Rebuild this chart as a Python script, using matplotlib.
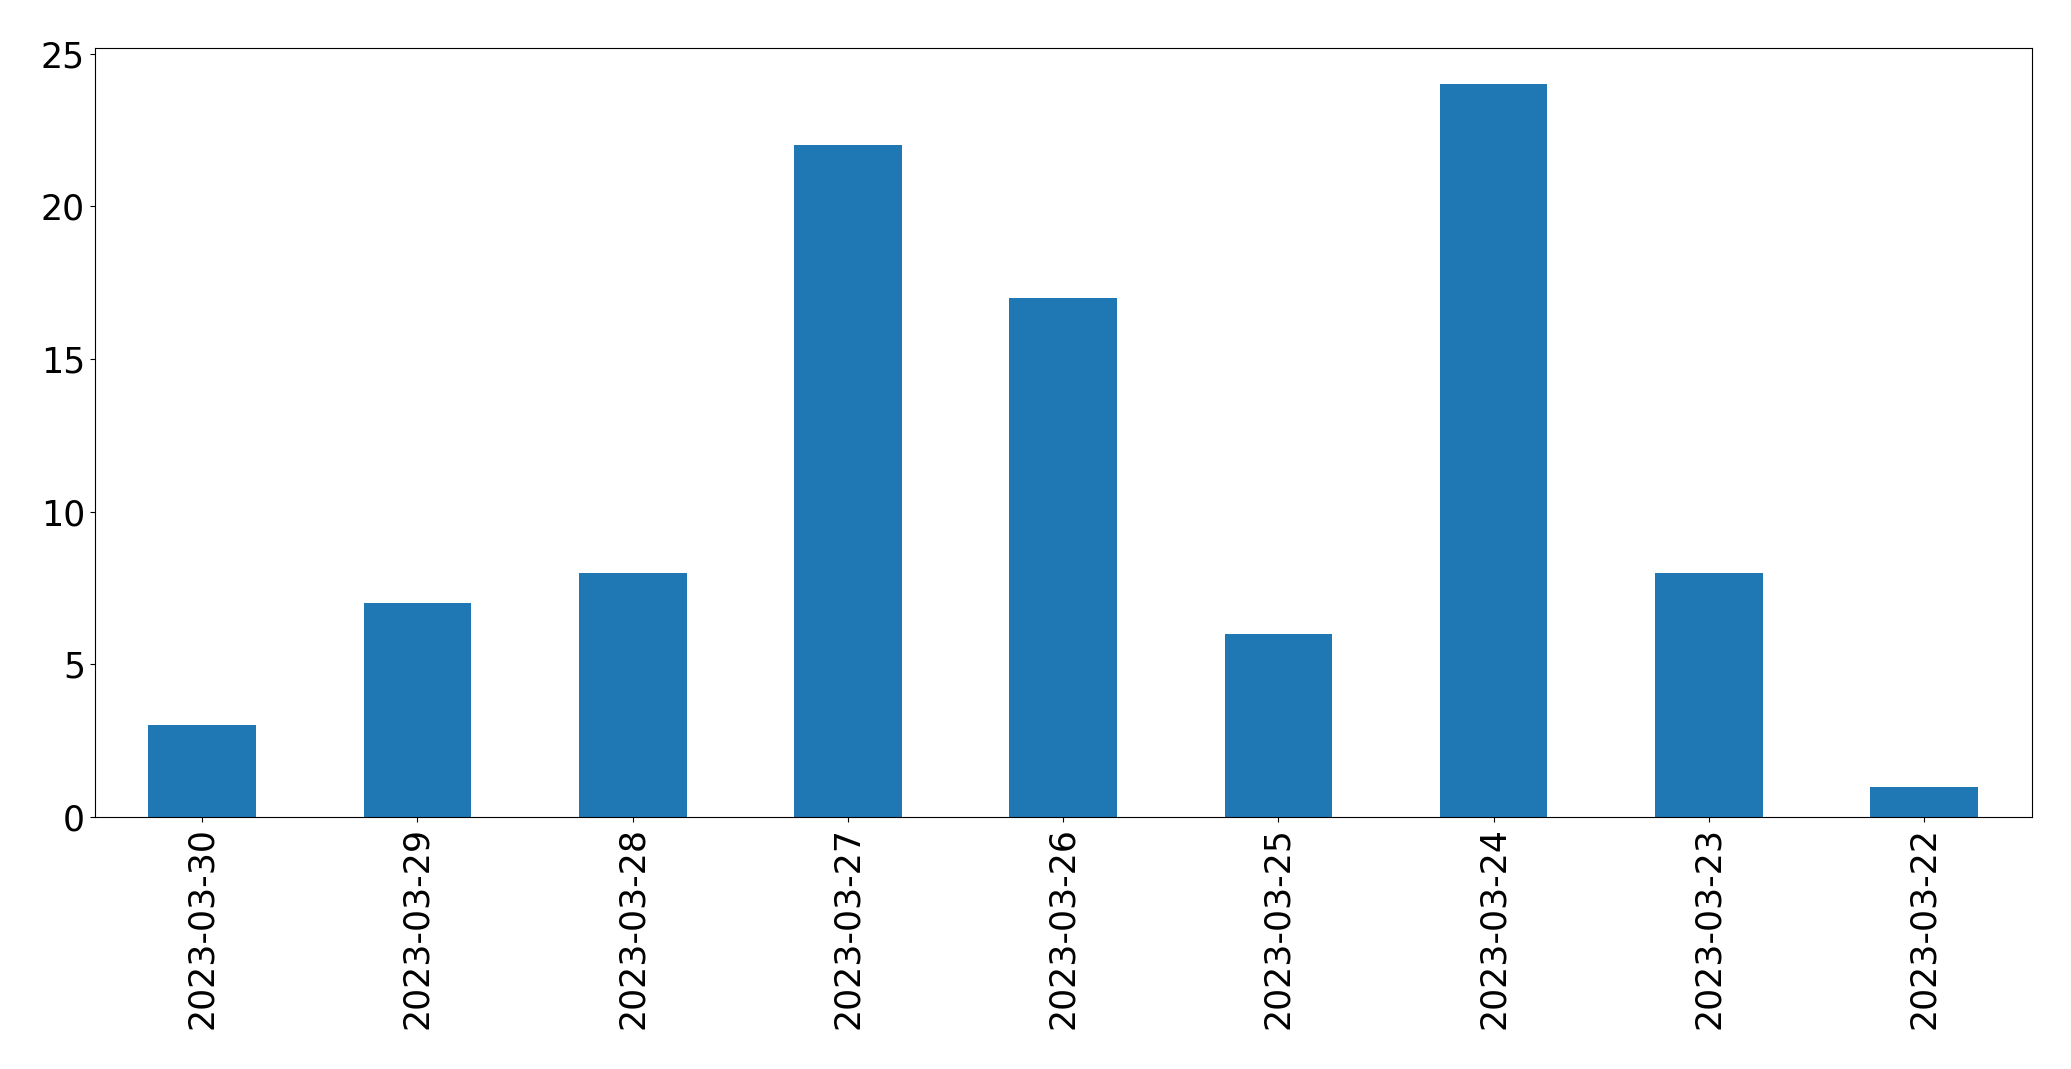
import matplotlib
matplotlib.use('Agg')
import matplotlib.pyplot as plt
import pandas as pd

dates = [
  '2023-03-30', '2023-03-29', '2023-03-28', '2023-03-27', '2023-03-26',
  '2023-03-25', '2023-03-24', '2023-03-23', '2023-03-22',
]
counts = [3, 7, 8, 22, 17, 6, 24, 8, 1]


def build_chart() -> None:
  series = pd.Series(counts, index=dates)

  fig = plt.figure(figsize=(20.71, 10.69), dpi=100)
  ax = fig.add_axes([0.0457, 0.2357, 0.981 - 0.0457, 0.9554 - 0.2357])

  series.plot(kind='bar', ax=ax, color='#1f77b4', fontsize=25)
  ax.set_xlabel('')

  fig.savefig('out.png', dpi=100)


build_chart()
